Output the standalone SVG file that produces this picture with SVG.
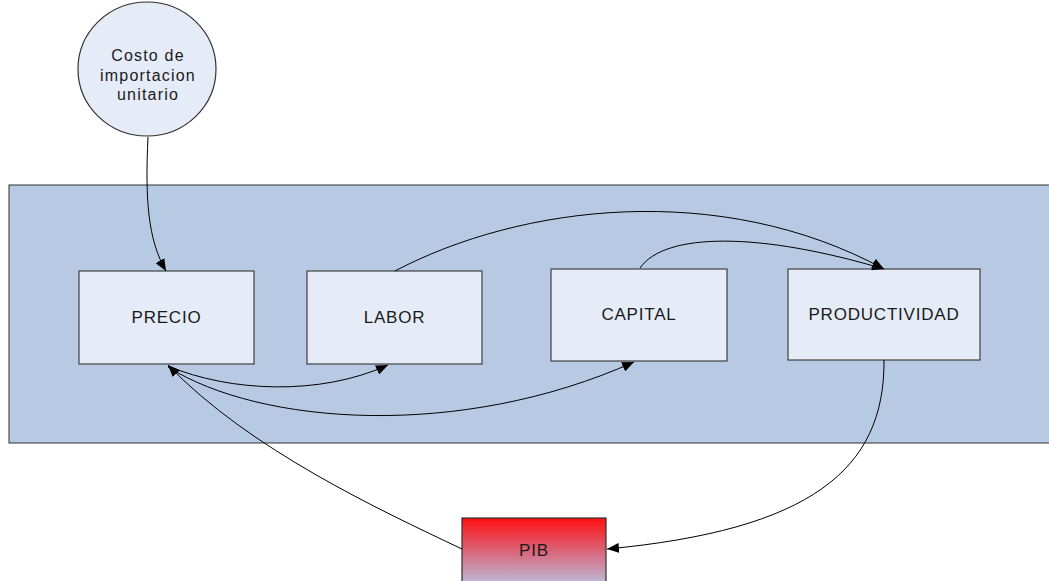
<svg xmlns="http://www.w3.org/2000/svg" width="1049" height="581" viewBox="0 0 1049 581">
<style>
.box{fill:#e6ecf7;stroke:#404040;stroke-width:1.2}
.lbl{font-family:"Liberation Sans",Arial,sans-serif;font-size:17px;fill:#1a1a1a;text-anchor:middle;letter-spacing:0.8px}
.sm{font-size:16px;letter-spacing:1.2px}
.c{fill:none;stroke:#000;stroke-width:1}
</style>
<defs>
<marker id="ah" viewBox="0 0 12 10" refX="12" refY="5" markerWidth="12" markerHeight="10" markerUnits="userSpaceOnUse" orient="auto">
<path d="M0,0 L12,5 L0,10 Z" fill="#000"/>
</marker>
<linearGradient id="pibg" x1="0" y1="0" x2="0" y2="1">
<stop offset="0" stop-color="#ff1010"/>
<stop offset="0.5" stop-color="#d86a80"/>
<stop offset="1" stop-color="#b8c6e4"/>
</linearGradient>
</defs>
<g id="fondo"><rect x="9" y="185" width="1045" height="258" fill="#b7c9e3" stroke="#303030" stroke-width="1"/></g>
<g id="costo">
<ellipse cx="147" cy="69" rx="69" ry="67" fill="#e6ecf7" stroke="#303030" stroke-width="1.2"/>
<text class="lbl sm" x="148" y="61">Costo de</text>
<text class="lbl sm" x="148" y="81">importacion</text>
<text class="lbl sm" x="148" y="100">unitario</text>
</g>
<g id="precio"><rect class="box" x="79" y="271" width="175" height="93"/><text class="lbl" x="166.5" y="323">PRECIO</text></g>
<g id="labor"><rect class="box" x="307" y="271" width="175" height="93"/><text class="lbl" x="394.5" y="323">LABOR</text></g>
<g id="capital"><rect class="box" x="551" y="269" width="176" height="92"/><text class="lbl" x="639" y="320">CAPITAL</text></g>
<g id="productividad"><rect class="box" x="788" y="269" width="192" height="91"/><text class="lbl" x="884" y="320">PRODUCTIVIDAD</text></g>
<g id="pib"><rect x="462" y="518" width="144" height="70" fill="url(#pibg)" stroke="#303030" stroke-width="1.2"/><text class="lbl" x="534" y="556">PIB</text></g>
<g id="conectores">
<path class="c" marker-end="url(#ah)" d="M148,137 C145,200 148,240 166,271"/>
<path class="c" marker-end="url(#ah)" d="M168,366 C230,392 320,396 388,365"/>
<path class="c" marker-end="url(#ah)" d="M168,367 C260,425 460,440 634,362"/>
<path class="c" marker-end="url(#ah)" d="M395,271 C520,205 720,180 884,269"/>
<path class="c" marker-end="url(#ah)" d="M640,268 C665,232 760,232 884,269"/>
<path class="c" marker-end="url(#ah)" d="M884,360 C885,470 810,530 607,549"/>
<path class="c" marker-end="url(#ah)" d="M462,549 C380,510 250,450 168,365"/>
</g>
</svg>
